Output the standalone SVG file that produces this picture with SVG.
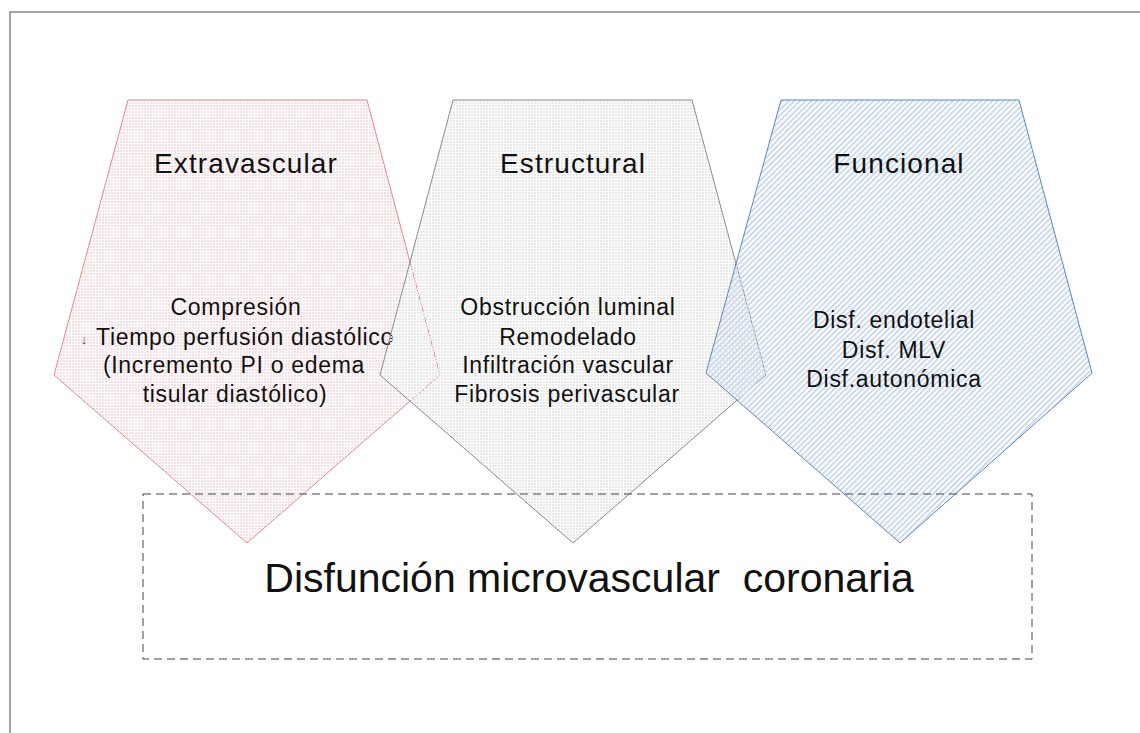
<svg xmlns="http://www.w3.org/2000/svg" width="1140" height="733" viewBox="0 0 1140 733">
<style>
text{font-family:"Liberation Sans",Arial,sans-serif;fill:#111;text-anchor:middle}
.title{font-size:28px;letter-spacing:1.1px}
.body{font-size:23px;letter-spacing:0.7px}
.main{font-size:41px}
.pent{stroke-width:1}
</style>
<defs>
<pattern id="pRed" width="3" height="3" patternUnits="userSpaceOnUse">
<rect x="0" y="0" width="2" height="2" fill="#f6dfe2"/>
</pattern>
<pattern id="pGray" width="3" height="3" patternUnits="userSpaceOnUse">
<rect x="0" y="0" width="2" height="2" fill="#e8e8e8"/>
</pattern>
<pattern id="pBlue" width="4" height="4" patternUnits="userSpaceOnUse" patternTransform="rotate(45)">
<rect x="0" y="0" width="2" height="4" fill="#cddbef"/>
</pattern>
</defs>
<rect x="10" y="12" width="1140" height="740" fill="#fff" stroke="#888" stroke-width="1.5"/>
<g id="node-extravascular">
<polygon class="pent" points="128,100 367,100 440,375 247,543 54,375" fill="url(#pRed)" stroke="#e08a8a"/>
<text class="title" x="246" y="173">Extravascular</text>
<text class="body" x="236" y="315">Compresión</text>
<text x="84" y="344" style="font-size:13px;fill:#444">↓</text>
<text class="body" x="245" y="345">Tiempo perfusión diastólico</text>
<text class="body" x="234" y="373">(Incremento PI o edema</text>
<text class="body" x="235" y="402">tisular diastólico)</text>
</g>
<g id="node-estructural">
<polygon class="pent" points="453,100 692,100 766,375 573,543 380,375" fill="url(#pGray)" stroke="#8a8a8a"/>
<text class="title" x="573" y="173">Estructural</text>
<text class="body" x="568" y="315">Obstrucción luminal</text>
<text class="body" x="568" y="345">Remodelado</text>
<text class="body" x="568" y="373">Infiltración vascular</text>
<text class="body" x="567" y="402">Fibrosis perivascular</text>
</g>
<g id="node-funcional">
<polygon class="pent" points="781,100 1019,100 1092,373 900,543 706,373" fill="url(#pBlue)" stroke="#5a86c4"/>
<text class="title" x="899" y="173">Funcional</text>
<text class="body" x="894" y="328">Disf. endotelial</text>
<text class="body" x="894" y="358">Disf. MLV</text>
<text class="body" x="894" y="387">Disf.autonómica</text>
</g>
<g id="node-disfuncion">
<rect x="143" y="494" width="889" height="165" fill="none" stroke="#444" stroke-width="1" stroke-dasharray="8,5"/>
<text class="main" x="589" y="592" xml:space="preserve">Disfunción microvascular  coronaria</text>
</g>
<g id="connectors"></g>
</svg>
